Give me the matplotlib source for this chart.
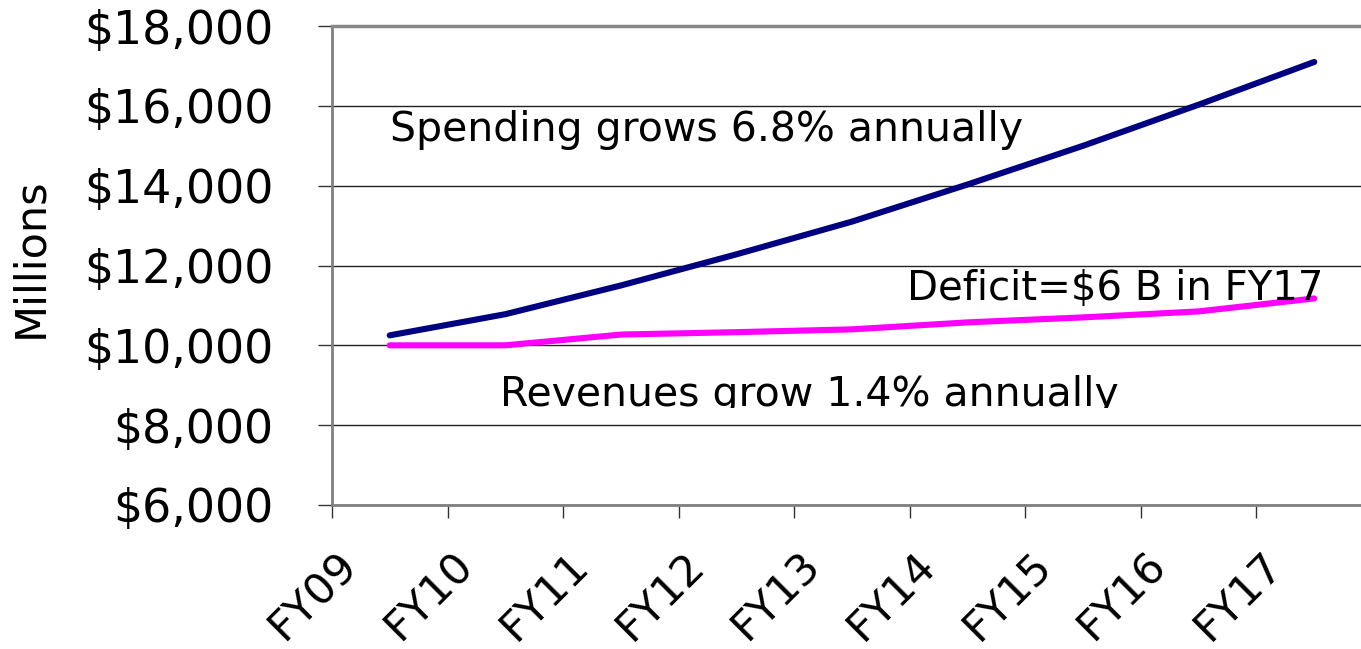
import numpy as np
import matplotlib
matplotlib.use("Agg")
import matplotlib.pyplot as plt
import matplotlib.transforms as mtransforms
from matplotlib.ticker import FuncFormatter

# DATA (millions of dollars)
years = ["FY09", "FY10", "FY11", "FY12", "FY13", "FY14", "FY15", "FY16", "FY17"]
spending = [10250, 10780, 11500, 12280, 13100, 14030, 15000, 16030, 17100]
revenues = [10000, 10000, 10270, 10330, 10400, 10575, 10700, 10850, 11175]

plt.rcParams["font.family"] = "DejaVu Sans"

fig = plt.figure(figsize=(13.61, 6.49), dpi=100)
# plot area runs a bit past the right edge of the picture
ax = fig.add_axes([0.2439, 0.2219, 0.7642, 0.738])

x = np.arange(len(years))
ax.plot(x, spending, color="#000080", lw=4.4, solid_capstyle="round", zorder=3)
ax.plot(x, revenues, color="#FF00FF", lw=4.4, solid_capstyle="round", zorder=3)

ax.set_xlim(-0.5, len(years) - 0.5)
ax.set_ylim(6000, 18000)
ax.set_yticks(np.arange(6000, 18001, 2000))
ax.yaxis.set_major_formatter(FuncFormatter(lambda v, p: "${:,.0f}".format(v)))
ax.yaxis.grid(True, color="#222222", lw=1.0)
ax.set_axisbelow(True)

ax.tick_params(axis="y", direction="out", length=10, width=1, color="#333333",
               pad=32, labelsize=33)

# category labels sit at the category boundaries
ax.set_xticks(x - 0.5)
ax.set_xticklabels(years, rotation=45, ha="right", va="top", fontsize=31)
ax.tick_params(axis="x", direction="out", length=9, width=1, color="#333333", pad=19)
shift = mtransforms.ScaledTranslation(0.34, 0, fig.dpi_scale_trans)
for lab in ax.get_xticklabels():
    lab.set_transform(lab.get_transform() + shift)

ax.spines["right"].set_visible(False)
ax.spines["left"].set_color("#808080")
ax.spines["left"].set_linewidth(2)
ax.spines["bottom"].set_color("#808080")
ax.spines["bottom"].set_linewidth(2)
ax.spines["top"].set_color("#888888")
ax.spines["top"].set_linewidth(2.5)

fig.text(0.022, 1 - 258 / 649, "Millions", rotation=90, ha="center", va="center", fontsize=31)

ax.text(0.0, 15400, "Spending grows 6.8% annually", fontsize=29.5, va="center", ha="left")
ax.text(4.48, 11420, "Deficit=$6 B in FY17", fontsize=29, va="center", ha="left")
rev = ax.text(0.955, 8475, "Revenues grow 1.4% annually", fontsize=29.5,
              va="baseline", ha="left")
# the text box in the original cuts the bottom of this line off
clip = mtransforms.TransformedBbox(mtransforms.Bbox([[-0.5, 8430], [8.5, 20000]]), ax.transData)
rev.set_clip_box(clip)
rev.set_clip_on(True)

fig.savefig("out.png", dpi=100, facecolor="white")
